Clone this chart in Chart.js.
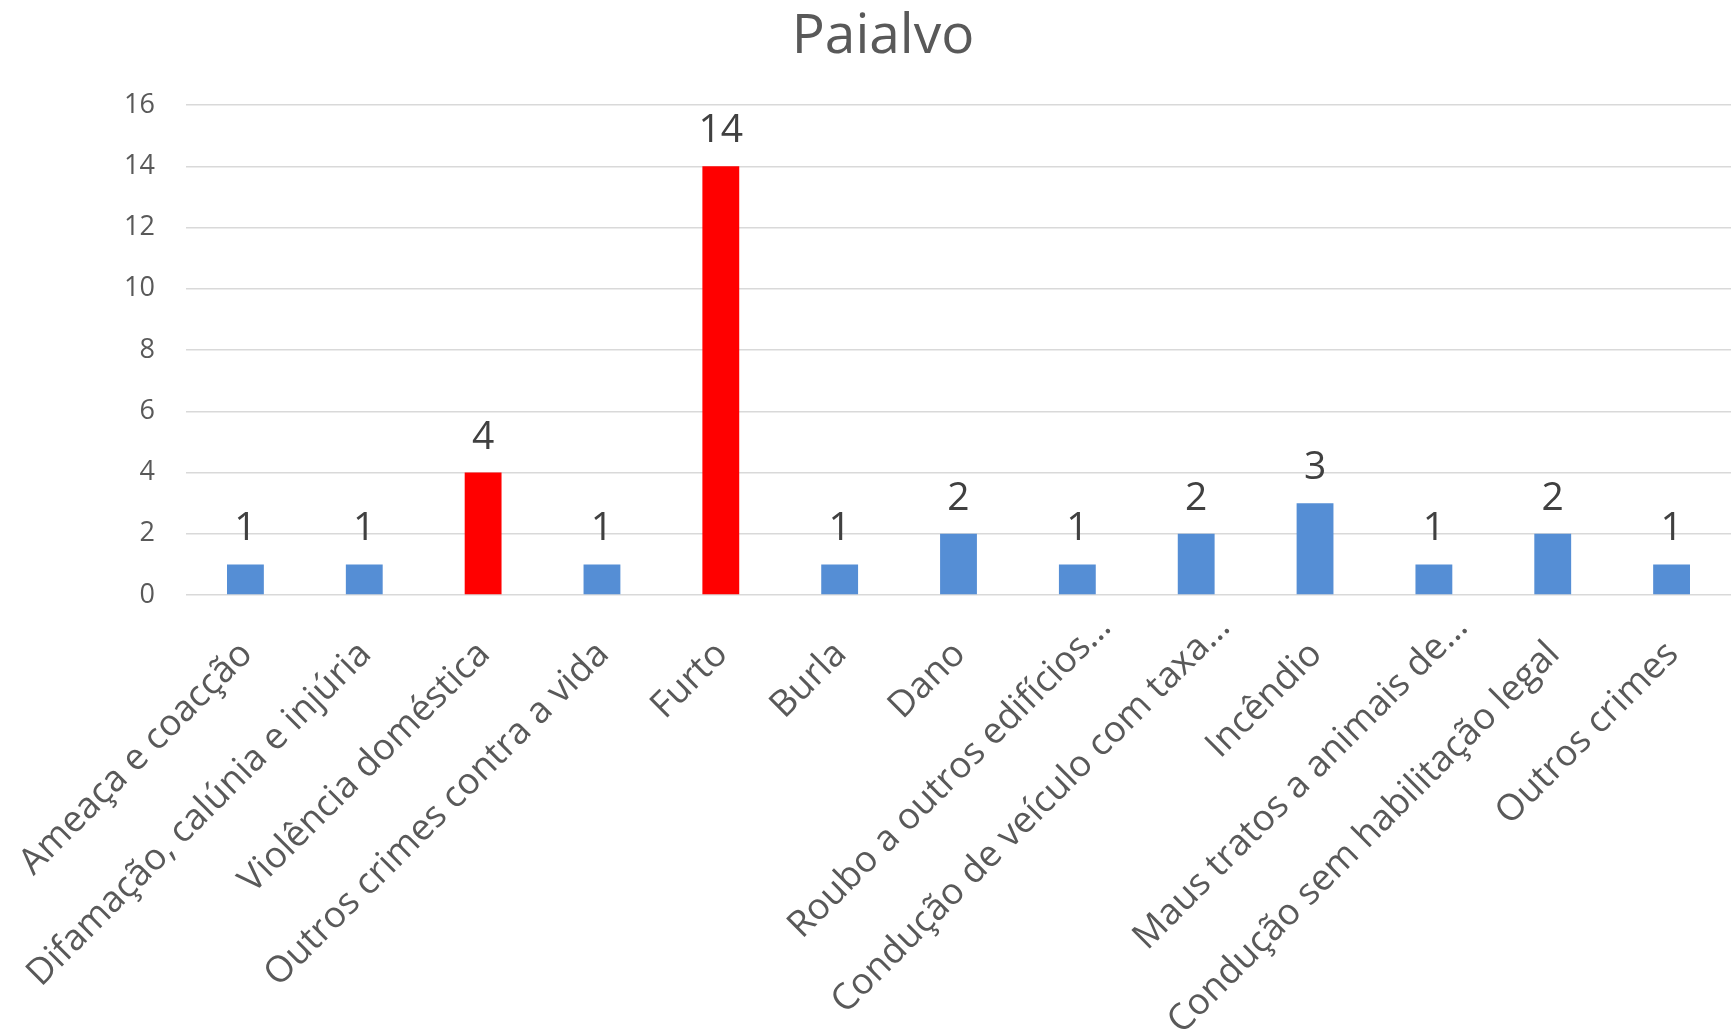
<!DOCTYPE html>
<html>
<head>
<meta charset="utf-8">
<script src="https://cdn.jsdelivr.net/npm/chart.js@4/dist/chart.umd.min.js"></script>
<style>
html,body{margin:0;padding:0;background:#fff;}
#wrap{width:1731px;height:1033px;position:relative;}
</style>
</head>
<body>
<div id="wrap"><canvas id="c" width="1731" height="1033"></canvas></div>
<script>
const categories = [
  "Ameaça e coacção",
  "Difamação, calúnia e injúria",
  "Violência doméstica",
  "Outros crimes contra a vida",
  "Furto",
  "Burla",
  "Dano",
  "Roubo a outros edifícios…",
  "Condução de veículo com taxa…",
  "Incêndio",
  "Maus tratos a animais de…",
  "Condução sem habilitação legal",
  "Outros crimes"
];
const values = [1, 1, 4, 1, 14, 1, 2, 1, 2, 3, 1, 2, 1];
const highlighted = [false, false, true, false, true, false, false, false, false, false, false, false, false];
const yTicks = [0, 2, 4, 6, 8, 10, 12, 14, 16];
const titleText = "Paialvo";

const BLUE = "#558ED5";
const RED = "#FF0000";
const FONT = "'Open Sans', 'DejaVu Sans', sans-serif";

const valueLabels = {
  id: 'valueLabels',
  afterDatasetsDraw(chart) {
    const ctx = chart.ctx;
    const meta = chart.getDatasetMeta(0);
    ctx.save();
    ctx.fillStyle = '#404040';
    ctx.font = '39px ' + FONT;
    ctx.textAlign = 'center';
    ctx.textBaseline = 'alphabetic';
    meta.data.forEach((bar, i) => {
      ctx.fillText(String(values[i]), bar.x, bar.y - 24);
    });
    ctx.restore();
  }
};

const titlePlugin = {
  id: 'titlePlugin',
  afterDraw(chart) {
    const ctx = chart.ctx;
    ctx.save();
    ctx.fillStyle = '#595959';
    ctx.font = '55px ' + FONT;
    ctx.textAlign = 'center';
    ctx.textBaseline = 'alphabetic';
    ctx.fillText(titleText, 883, 53);
    ctx.restore();
  }
};

new Chart(document.getElementById('c'), {
  type: 'bar',
  data: {
    labels: categories,
    datasets: [{
      data: values,
      backgroundColor: values.map((v, i) => highlighted[i] ? RED : BLUE),
      borderWidth: 0,
      categoryPercentage: 1.0,
      barPercentage: 0.31
    }]
  },
  options: {
    responsive: false,
    animation: false,
    devicePixelRatio: 1,
    layout: { padding: { top: 105, left: 0, right: 0, bottom: 0 } },
    plugins: {
      legend: { display: false },
      tooltip: { enabled: false },
      title: { display: false }
    },
    scales: {
      x: {
        grid: { display: false, drawTicks: false },
        border: { display: false },
        ticks: {
          color: '#595959',
          font: { family: FONT, size: 36.5 },
          maxRotation: 45,
          minRotation: 45,
          autoSkip: false,
          padding: 11,
          labelOffset: 28,
          callback(value, index) {
            const label = categories[index];
            // Excel shifts the truncated (…) labels further along the text direction
            return label.endsWith('…') ? label : label + '    ';
          }
        },
        afterFit(scale) {
          scale.height = 1033 - 595;
          scale.paddingLeft = 0;
          scale.paddingRight = 0;
        }
      },
      y: {
        min: 0,
        max: 16,
        afterBuildTicks(scale) { scale.ticks = yTicks.map(v => ({ value: v })); },
        grid: { color: '#D9D9D9', lineWidth: 1.5, drawTicks: false },
        border: { display: false },
        ticks: {
          color: '#595959',
          font: { family: FONT, size: 27 },
          padding: 31
        },
        afterFit(scale) {
          scale.width = 186;
          scale.paddingTop = 0;
          scale.paddingBottom = 0;
        }
      }
    }
  },
  plugins: [valueLabels, titlePlugin]
});
</script>
</body>
</html>
